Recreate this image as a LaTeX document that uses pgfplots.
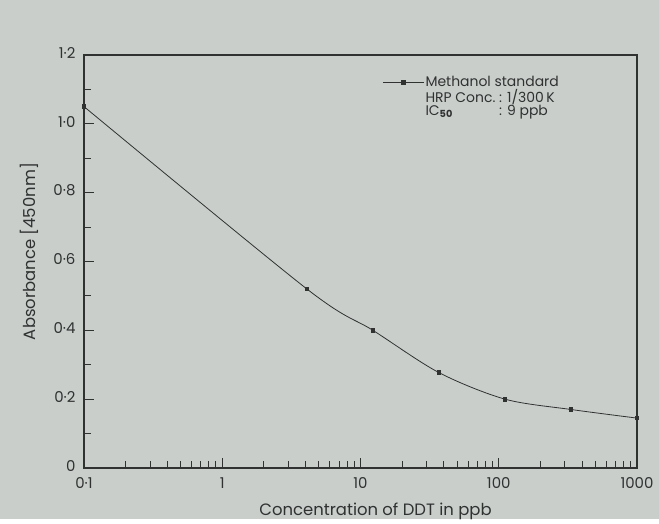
\documentclass[border=0pt]{standalone}
\usepackage{pgfplots}
\pgfplotsset{compat=1.18}
\usepackage{calc}
\usepackage{fontspec}
\setmainfont{Poppins}
\definecolor{paper}{RGB}{201,206,203}
\definecolor{ink}{RGB}{48,50,50}
\begin{document}
\begin{tikzpicture}
\fill[paper] (0,0) rectangle (659bp,519bp);
\begin{axis}[
  at={(84bp,51bp)}, anchor=south west,
  scale only axis, width=553bp, height=413bp,
  xmode=log, xmin=0.1, xmax=1000, ymin=0, ymax=1.2,
  clip=false,
  axis line style={ink, line width=1.3pt},
  tick align=inside, xtick pos=bottom, ytick pos=left,
  xtick={0.1,1,10,100,1000},
  xticklabels={0·1,1,10,100,1000},
  ytick={0,0.2,0.4,0.6,0.8,1.0,1.2},
  yticklabels={0,0·2,0·4,0·6,0·8,1·0,1·2},
  minor ytick={0.1,0.3,0.5,0.7,0.9,1.1},
  major tick style={ink, line width=1pt},
  minor tick style={ink, line width=0.9pt},
  major tick length=10bp, minor tick length=7bp,
  tick label style={font=\fontsize{15}{17}\selectfont, text=ink},
  xticklabel style={yshift=-6bp},
  yticklabel style={xshift=-5bp},
  y tick label style={yshift=2bp},
  xlabel={Concentration of DDT in ppb},
  ylabel={Absorbance [450nm]},
  label style={font=\fontsize{16.5}{18}\selectfont, text=ink},
  xlabel style={yshift=-8bp, xshift=15bp},
  ylabel style={yshift=8bp, xshift=10bp},
  legend style={draw=none, fill=none, at={(0.535,0.957)}, anchor=north west,
    font=\fontsize{14}{15}\selectfont, text=ink, row sep=-2bp,
    nodes={inner ysep=1.5bp},
    /tikz/every even column/.append style={column sep=1bp}},
  legend cell align=left,
  legend image code/.code={\draw[mark repeat=2,mark phase=2]
    plot coordinates {(0cm,0cm) (0.7cm,0cm) (1.4cm,0cm)};},
]
\addplot[ink, line width=0.8pt, smooth, tension=0.5,
  mark=square*, mark size=1.8bp, mark options={fill=ink, draw=ink}]
  coordinates {
    (0.1,1.05) (4.1,0.52) (12.3,0.40) (37,0.277)
    (111,0.20) (333,0.17) (1000,0.145)
  };
\addlegendentry{Methanol standard}
\addlegendimage{empty legend}
\addlegendentry{HRP Conc.\ : 1/300\,K}
\addlegendimage{empty legend}
\addlegendentry{\makebox[\widthof{HRP Conc.\ }][l]{IC\textsubscript{\textbf{50}}}: 9 ppb}
\end{axis}
\end{tikzpicture}
\end{document}
